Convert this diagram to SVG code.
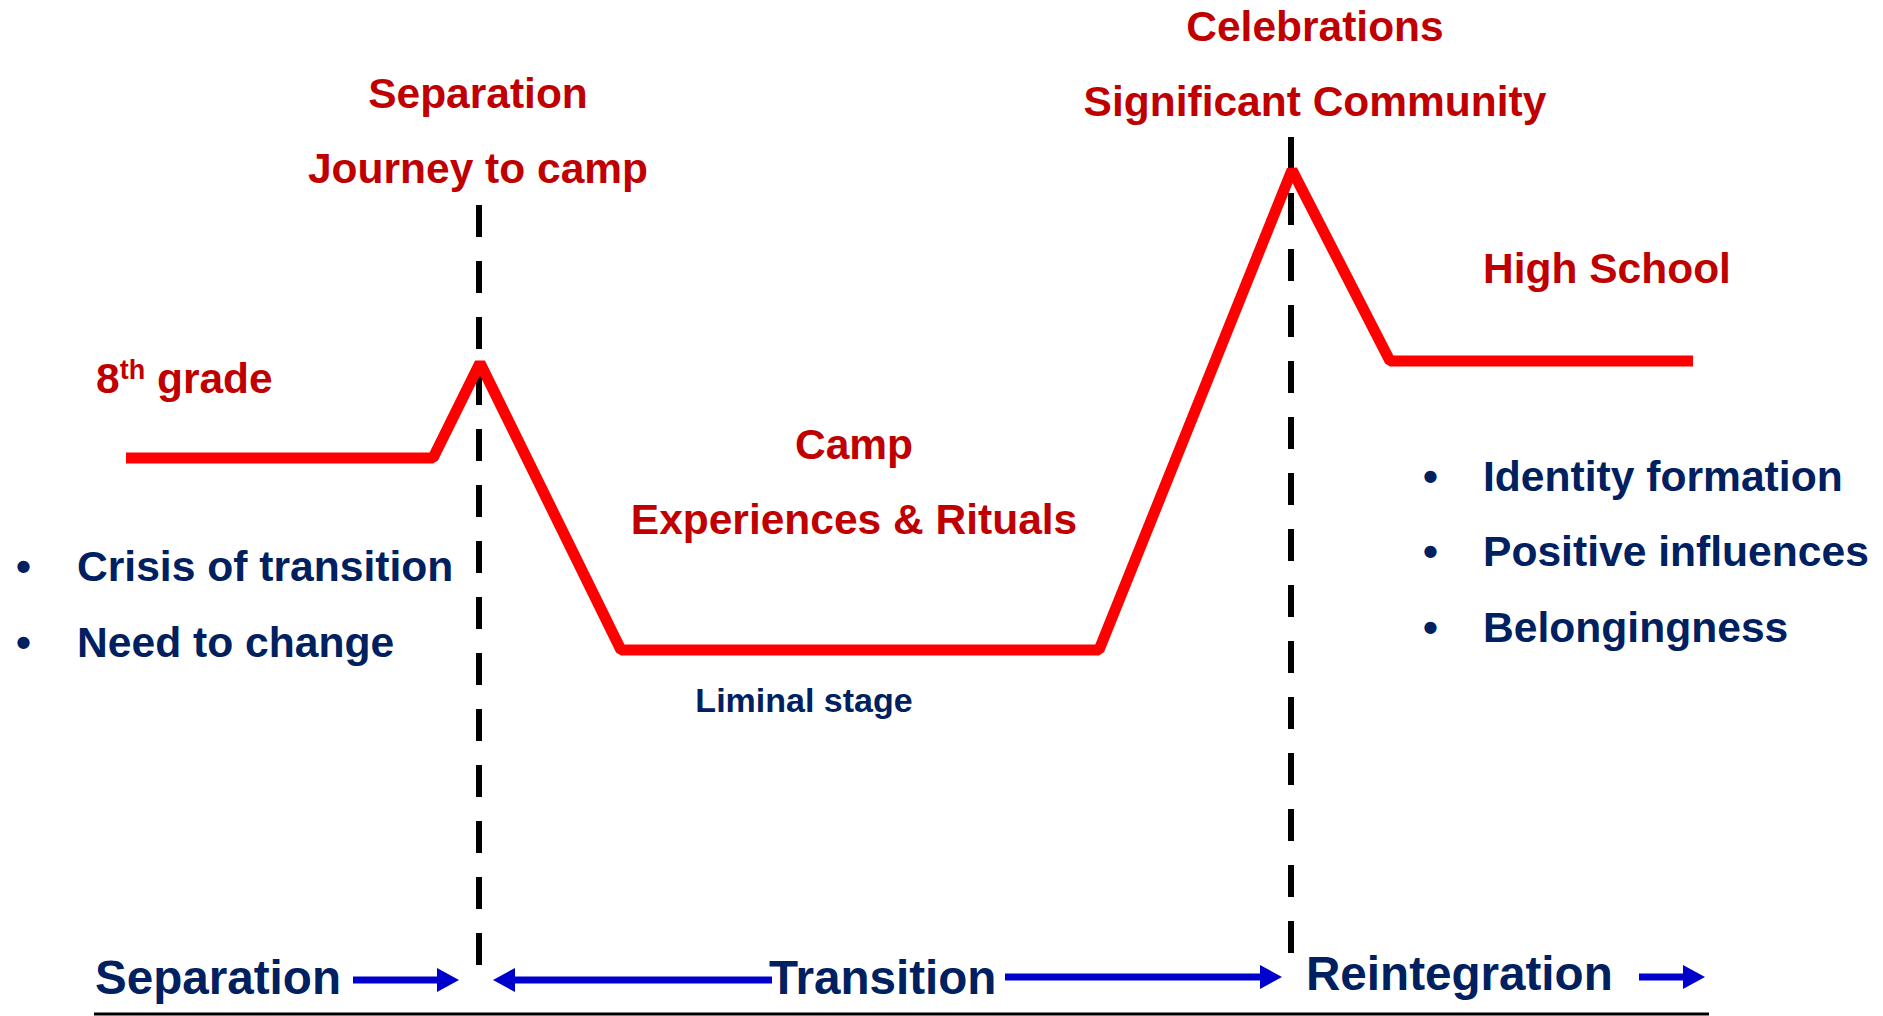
<svg xmlns="http://www.w3.org/2000/svg" width="1883" height="1016" viewBox="0 0 1883 1016">
<defs>
<style>
text{font-family:"Liberation Sans",Arial,sans-serif;font-weight:bold}
.red{fill:#C00000;font-size:42.5px}
.navy{fill:#002060;font-size:42.6px}
.phase{fill:#002060;font-size:47.6px}
.mid{text-anchor:middle}
.curve{fill:none;stroke:#FF0000;stroke-width:11;stroke-linejoin:bevel}
.dash{stroke:#000;stroke-width:6;stroke-dasharray:32 24}
.arrow{stroke:#0000CC;stroke-width:7;marker-end:url(#ah)}
</style>
<marker id="ah" markerUnits="userSpaceOnUse" viewBox="0 -12 22 24" refX="0" refY="0" markerWidth="22" markerHeight="24" orient="auto" overflow="visible">
<path d="M0,-12 L22,0 L0,12 z" fill="#0000CC"/>
</marker>
</defs>
<rect width="1883" height="1016" fill="#fff"/>

<g id="connectors">
<line class="dash" x1="479" y1="205" x2="479" y2="965"/>
<line class="dash" x1="1291" y1="137" x2="1291" y2="955"/>
<polyline class="curve" points="126,458 433,458 480,363 621,650 1099,650 1292,170 1390,361 1693,361"/>
<line class="arrow" x1="353" y1="980" x2="437" y2="980"/>
<line class="arrow" x1="772" y1="980" x2="515" y2="980"/>
<line class="arrow" x1="1005" y1="977" x2="1260" y2="977"/>
<line class="arrow" x1="1639" y1="977" x2="1683" y2="977"/>
<line x1="94" y1="1014" x2="1709" y2="1014" stroke="#000" stroke-width="3"/>
</g>

<g id="separation-top">
<text class="red mid" x="478" y="108">Separation</text>
<text class="red mid" x="478" y="183">Journey to camp</text>
</g>
<g id="celebrations">
<text class="red mid" x="1315" y="41">Celebrations</text>
<text class="red mid" x="1315" y="116">Significant Community</text>
</g>
<g id="high-school">
<text class="red" x="1483" y="283">High School</text>
</g>
<g id="eighth-grade">
<text class="red" x="96" y="393">8<tspan font-size="27" dy="-14">th</tspan><tspan dy="14"> grade</tspan></text>
</g>
<g id="camp">
<text class="red mid" x="854" y="459">Camp</text>
<text class="red mid" x="854" y="534">Experiences &amp; Rituals</text>
</g>
<g id="liminal">
<text class="navy mid" x="804" y="712" style="font-size:34px">Liminal stage</text>
</g>
<g id="left-bullets">
<text class="navy" x="16" y="581">•</text>
<text class="navy" x="77" y="581">Crisis of transition</text>
<text class="navy" x="16" y="657">•</text>
<text class="navy" x="77" y="657">Need to change</text>
</g>
<g id="right-bullets">
<text class="navy" x="1423" y="491">•</text>
<text class="navy" x="1483" y="491">Identity formation</text>
<text class="navy" x="1423" y="566">•</text>
<text class="navy" x="1483" y="566">Positive influences</text>
<text class="navy" x="1423" y="642">•</text>
<text class="navy" x="1483" y="642">Belongingness</text>
</g>
<g id="phase-separation"><text class="phase" x="95" y="994">Separation</text></g>
<g id="phase-transition"><text class="phase" x="769" y="994">Transition</text></g>
<g id="phase-reintegration"><text class="phase" x="1306" y="990">Reintegration</text></g>
</svg>
